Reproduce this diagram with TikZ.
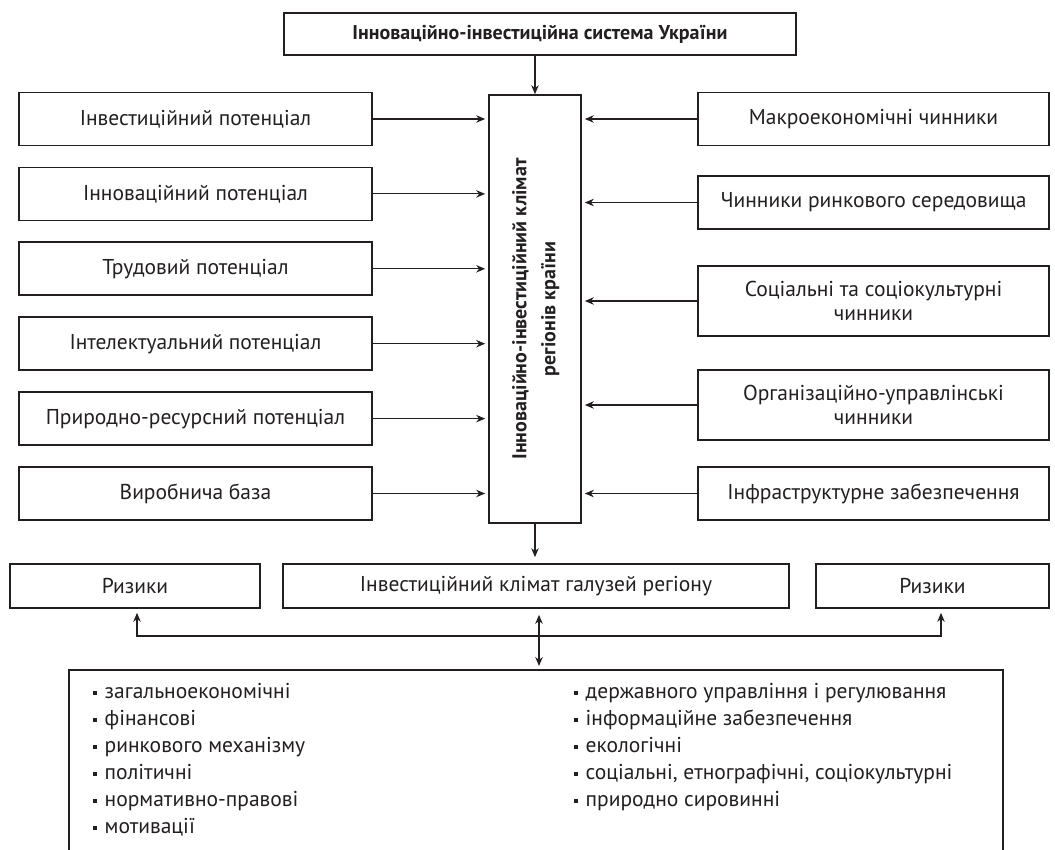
\documentclass[tikz,border=0pt]{standalone}
\usepackage{fontspec}
\setmainfont{PT Sans}
\usetikzlibrary{arrows.meta}

\definecolor{ink}{RGB}{35,31,32}
\newcommand{\itm}{\rule[3.5pt]{3.5pt}{3.5pt}\hspace{8pt}}

\tikzset{
  box/.style={draw=ink, line width=1.7pt, inner sep=2pt, align=center, text=ink,
    font=\fontsize{21.5}{24}\selectfont},
  lbox/.style={box, minimum width=353pt, minimum height=53pt},
  rbox/.style={box, minimum width=351pt},
  arr/.style={draw=ink, line width=1.1pt, -{Stealth[length=9pt,width=7.5pt]}},
  arr2/.style={draw=ink, line width=1.1pt, {Stealth[length=9pt,width=7.5pt]}-{Stealth[length=9pt,width=7.5pt]}},
  item/.style={anchor=base west, inner sep=0pt, text=ink, font=\fontsize{21.5}{24}\selectfont},
}

\begin{document}
\begin{tikzpicture}[x=1pt,y=-1pt]
\useasboundingbox (0,0) rectangle (1055,849);
\clip (0,0) rectangle (1055,849);

% верхній блок
\node[box, font=\bfseries\fontsize{20}{22}\selectfont, minimum width=512pt, minimum height=42pt] (sys) at (540,34) {Інноваційно-інвестиційна система України};

% центральний блок
\node[box, minimum width=92pt, minimum height=428pt] (clim) at (535,309)
  {\rotatebox{90}{\bfseries\fontsize{20}{29}\selectfont\begin{tabular}{@{}c@{}}Інноваційно-інвестиційний клімат\\регіонів країни\end{tabular}}};
\draw[arr] (sys.south -| clim.north) -- (clim.north);

% потенціали
\foreach \t [count=\i] in {Інвестиційний потенціал, Інноваційний потенціал, Трудовий потенціал,
    Інтелектуальний потенціал, Природно-ресурсний потенціал, Виробнича база}{
  \node[lbox] (pot\i) at (195.5,{119+74.9*(\i-1)}) {\t};
  \draw[arr, shorten >=3pt] (pot\i.east) -- (pot\i.east -| clim.west);
}

% чинники
\foreach \t/\yy/\hh [count=\i] in {Макроекономічні чинники/119/53,
    Чинники ринкового середовища/202.5/53,
    Соціальні та соціокультурні\\чинники/301/70,
    Організаційно-управлінські\\чинники/405/70,
    Інфраструктурне забезпечення/493.5/53}{
  \node[rbox, minimum height=\hh pt] (fac\i) at (873.5,\yy) {\t};
  \draw[arr, shorten >=3pt] (fac\i.west) -- (fac\i.west -| clim.east);
}

% нижній ряд
\node[box, minimum width=250pt, minimum height=44pt] (risk1) at (135,586) {Ризики};
\node[box, minimum width=506pt, minimum height=44pt] (galuz) at (536,586) {Інвестиційний клімат галузей регіону};
\node[box, minimum width=233pt, minimum height=44pt] (risk2) at (932.5,586) {Ризики};
\draw[arr, shorten >=6pt] (clim.south) -- (clim.south |- galuz.north);

% види ризиків
\node[box, minimum width=934pt, minimum height=190pt, anchor=north] (kinds) at (536,669) {};
\coordinate (hub) at (539,636);
\draw[arr, shorten >=4pt] (hub) -| ([xshift=2pt]risk1.south);
\draw[arr, shorten >=4pt] (hub) -| ([xshift=8.5pt]risk2.south);
\draw[arr2, shorten >=3pt, shorten <=6pt] (hub |- galuz.south) -- (hub |- kinds.north);

\foreach \t [count=\i] in {загальноекономічні, фінансові, ринкового механізму, політичні,
    нормативно-правові, мотивації}
  \node[item] (ka\i) at (93,{698+27*(\i-1)}) {\itm\t};
\foreach \t [count=\i] in {державного управління і регулювання, інформаційне забезпечення,
    екологічні, {соціальні, етнографічні, соціокультурні}, природно сировинні}
  \node[item] (kb\i) at (574,{698+27*(\i-1)}) {\itm\t};
\end{tikzpicture}
\end{document}
